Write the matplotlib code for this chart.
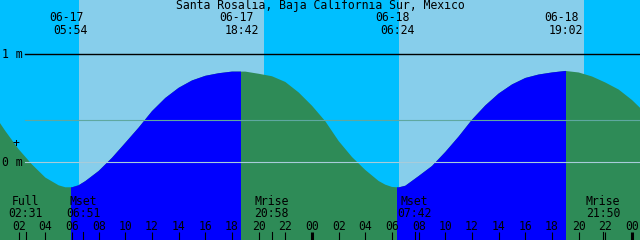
import matplotlib
matplotlib.use("Agg")
import matplotlib.pyplot as plt
from matplotlib.patches import Rectangle
import matplotlib.transforms as mtrans

# ---------------- data ----------------
title = "Santa Rosalia, Baja California Sur, Mexico"
# hours from 06-17 00:00 and tide level (m)
hours = [0, 1, 2, 3, 4, 5, 5.5, 6, 6.5, 7, 8, 9,
         10, 11, 12, 13, 14, 15, 16, 17, 18, 19,
         20, 21, 22, 23, 24, 25, 26, 27, 28, 29, 29.5,
         30, 30.5, 31, 32, 33, 34, 35, 36, 37, 38, 39,
         40, 41, 42, 43, 44, 45, 46, 47, 48, 49]
levels = [0.47, 0.287, 0.118, -0.023, -0.144, -0.216, -0.234, -0.234, -0.215, -0.177, -0.083, 0.039,
          0.178, 0.319, 0.471, 0.593, 0.687, 0.755, 0.798, 0.822, 0.837, 0.837,
          0.817, 0.794, 0.741, 0.644, 0.521, 0.377, 0.194, 0.046, -0.074, -0.176, -0.21,
          -0.231, -0.235, -0.22, -0.13, -0.037, 0.093, 0.236, 0.392, 0.524, 0.634, 0.718,
          0.778, 0.81, 0.829, 0.843, 0.829, 0.792, 0.736, 0.671, 0.574, 0.454]
sun_dates = ["06-17", "06-17", "06-18", "06-18"]
sun_times = ["05:54", "18:42", "06:24", "19:02"]
sun_days = [0, 0, 1, 1]
light_sky = [(6.525, 20.4), (30.525, 44.4)]
moon_names = ["Full", "Mset", "Mrise", "Mset", "Mrise"]
moon_times = ["02:31", "06:51", "20:58", "07:42", "21:50"]
moon_days = [0, 0, 0, 1, 1]
tick_hours = list(range(2, 49, 2))
tick_labels = ["%02d" % (h % 24) for h in tick_hours]
mean_level = 0.386
y_labels = ["1 m", "0 m"]
y_label_levels = [1.0, 0.0]


def to_h(t, d):
    hh, mm = t.split(":")
    return 24 * d + int(hh) + int(mm) / 60.0


# ---------------- colours ----------------
NIGHT_SKY = "#00BFFF"
DAY_SKY = "#87CEEB"
DAY_SEA = "#0000FF"
NIGHT_SEA = "#2E8B57"

W, H = 640, 240
fig = plt.figure(figsize=(6.4, 2.4), dpi=100, facecolor=NIGHT_SKY)
ax = fig.add_axes([0, 0, 1, 1])
ax.set_axis_off()
XMIN, XMAX = 0.6, 48.6
YMIN, YMAX = -0.7222, 1.5
ax.set_xlim(XMIN, XMAX)
ax.set_ylim(YMIN, YMAX)

font = dict(family="DejaVu Sans Mono", size=8.3, color="black")

# sky
for a, b in light_sky:
    ax.axvspan(a, b, color=DAY_SKY, lw=0, zorder=1)

# sea (night)
ax.fill_between(hours, YMIN, levels, color=NIGHT_SEA, lw=0, zorder=2)

# sea (day)
sun_h = [to_h(t, d) for t, d in zip(sun_times, sun_days)]
for i in range(0, len(sun_h), 2):
    sr, ss = sun_h[i], sun_h[i + 1]
    poly = ax.fill_between(hours, YMIN, levels, color=DAY_SEA, lw=0, zorder=3)
    rect = Rectangle((sr, YMIN), ss - sr, YMAX - YMIN, transform=ax.transData)
    poly.set_clip_path(rect)

# horizontal reference lines
x0 = 25 / W
ax.axhline(1.0, xmin=x0, xmax=1, color="black", lw=1.0, zorder=5)
ax.axhline(mean_level, xmin=x0, xmax=1, color="#5FA8A0", lw=0.8, zorder=5)
ax.axhline(0.0, xmin=x0, xmax=1, color="#A8CCDA", lw=0.8, zorder=5)

# y labels
for lab, lv in zip(y_labels, y_label_levels):
    ax.text(2 / W, lv, lab, transform=mtrans.blended_transform_factory(ax.transAxes, ax.transData),
            ha="left", va="center", zorder=6, **font)
ax.text(16 / W, 1 - 144 / H, "+", transform=ax.transAxes, ha="center", va="center",
        zorder=6, **font)

# title
ax.text(0.5, 1 - 6 / H, title, transform=ax.transAxes, ha="center", va="center",
        zorder=6, **font)

xt = ax.get_xaxis_transform()
shift_left = mtrans.offset_copy(xt, fig=fig, x=-4.5 * 72 / 100, y=0, units="points")

# sun labels
for d, t, h in zip(sun_dates, sun_times, sun_h):
    ax.text(h, 1 - 17.5 / H, d, transform=shift_left, ha="center", va="center", zorder=6, **font)
    ax.text(h, 1 - 30 / H, t, transform=xt, ha="center", va="center", zorder=6, **font)

# moon labels and ticks
moon_h = [to_h(t, d) for t, d in zip(moon_times, moon_days)]
for n, t, h in zip(moon_names, moon_times, moon_h):
    ax.text(h, 1 - 201.5 / H, n, transform=xt, ha="center", va="center", zorder=6, **font)
    ax.text(h, 1 - 213.7 / H, t, transform=xt, ha="center", va="center", zorder=6, **font)
    ax.plot([h, h], [0, 8 / H], transform=xt, color="black", lw=0.8, zorder=6)

# hour ticks
for h, lab in zip(tick_hours, tick_labels):
    ax.text(h, 1 - 226 / H, lab, transform=xt, ha="center", va="center", zorder=6, **font)
    lw = 2.2 if h % 24 == 0 else 0.8
    ax.plot([h, h], [0, 8 / H], transform=xt, color="black", lw=lw, zorder=6,
            solid_capstyle="butt")

fig.savefig("out.png", dpi=100, facecolor=NIGHT_SKY)
